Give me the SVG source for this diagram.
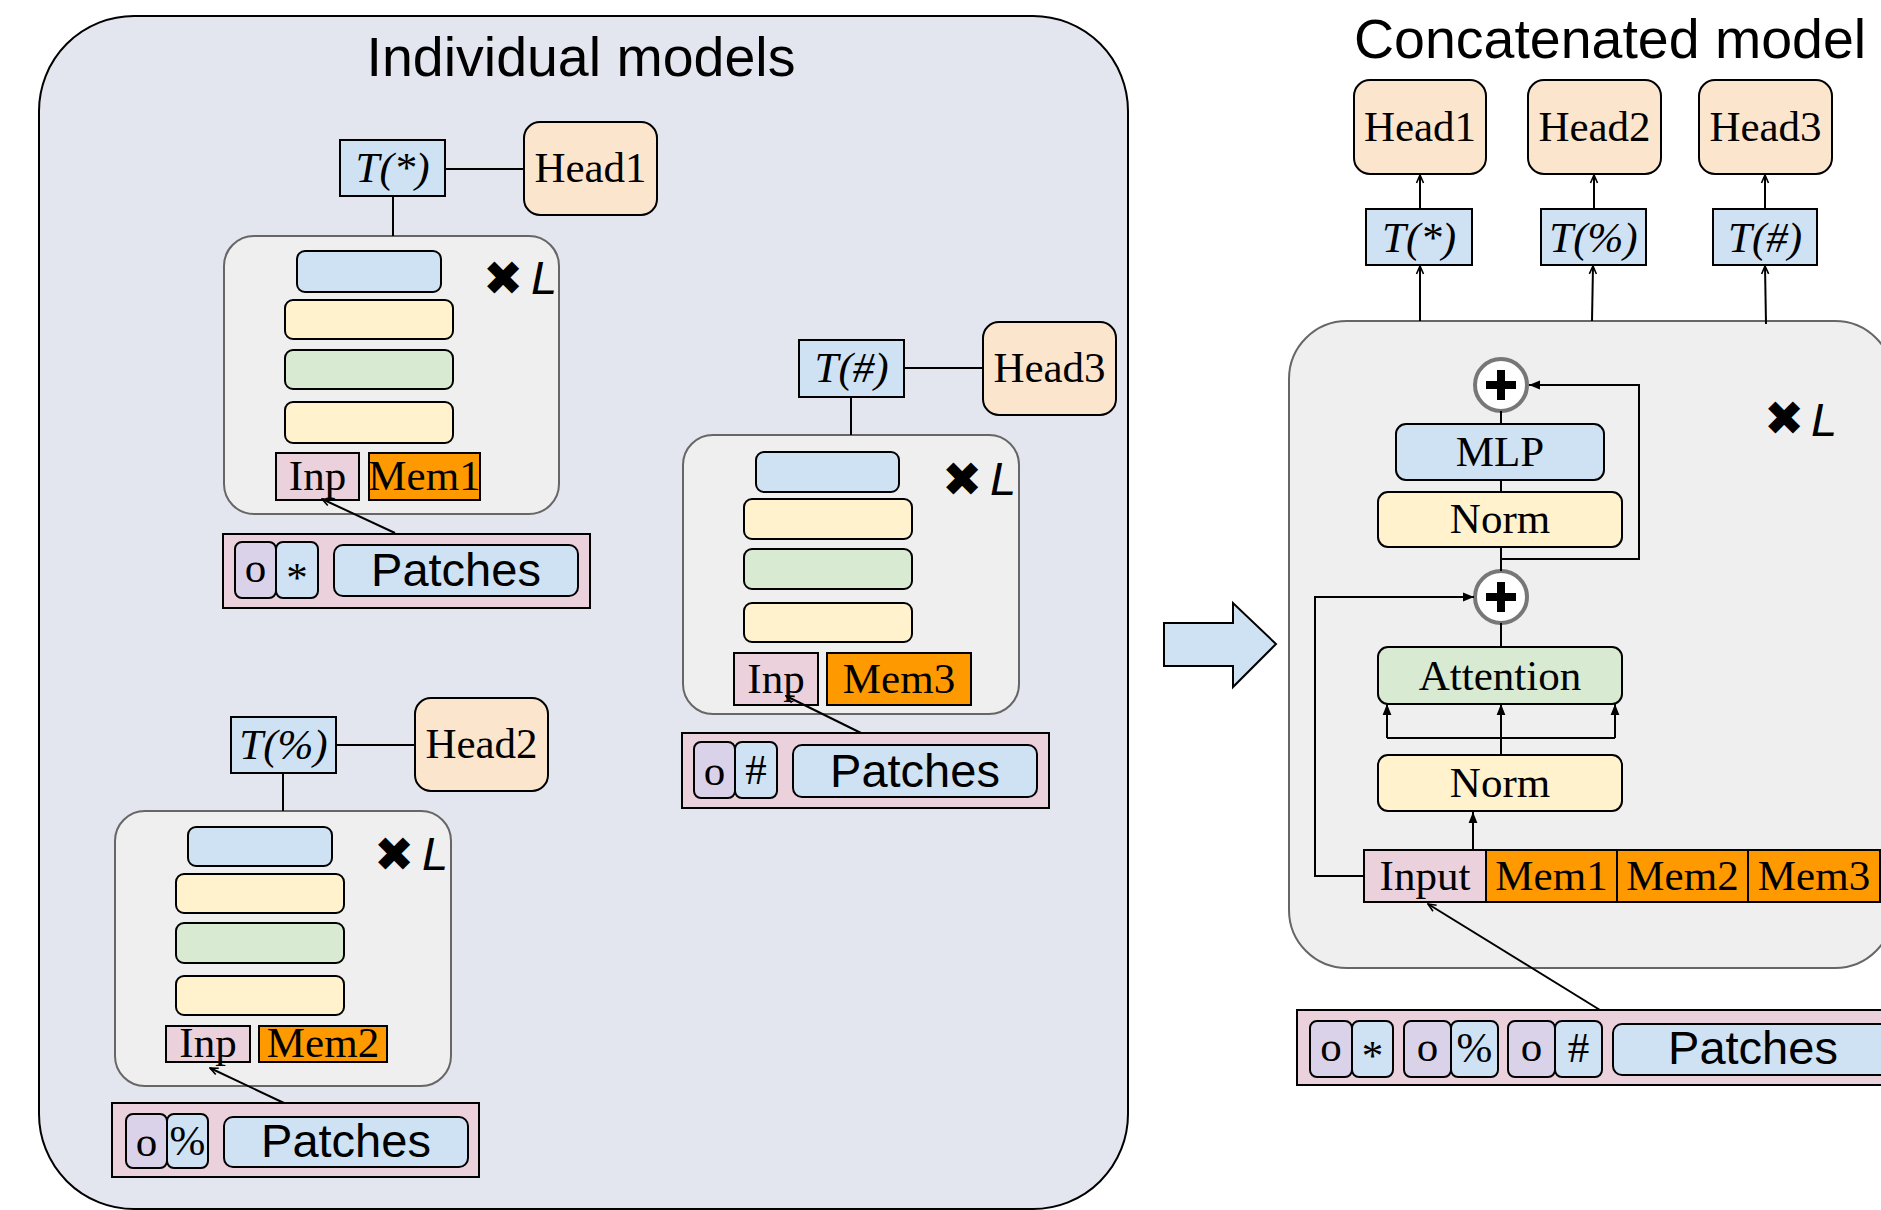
<svg xmlns="http://www.w3.org/2000/svg" width="1881" height="1210" viewBox="0 0 1881 1210">
<style>
.panel{fill:#e3e6ee;stroke:#000;stroke-width:2}
.blk{fill:#efefef;stroke:#666;stroke-width:2}
.bl{fill:#cfe2f3;stroke:#000;stroke-width:2}
.ye{fill:#fff2cc;stroke:#000;stroke-width:2}
.gr{fill:#d9ead3;stroke:#000;stroke-width:2}
.pe{fill:#fce5cd;stroke:#000;stroke-width:2}
.pk{fill:#ead1dc;stroke:#000;stroke-width:2}
.pu{fill:#d9d2e9;stroke:#000;stroke-width:2}
.or{fill:#ff9900;stroke:#000;stroke-width:2}
.ln{fill:none;stroke:#000;stroke-width:2}
.sum{fill:#fff;stroke:#777;stroke-width:4}
.sf{font-family:"Liberation Serif","DejaVu Serif",serif;font-size:43px;text-anchor:middle;fill:#000}
.it{font-style:italic}
.ss{font-family:"Liberation Sans",Arial,sans-serif;fill:#000}
.pt{font-size:47px;text-anchor:middle}
.tt{font-size:55.5px}
.x{font-family:"DejaVu Sans",sans-serif;font-size:48px;fill:#000}
.L{font-family:"Liberation Sans",Arial,sans-serif;font-style:italic;font-size:47px;fill:#000}
</style>
<defs>
<marker id="op" viewBox="0 0 10 10" refX="9" refY="5" markerWidth="10" markerHeight="10" markerUnits="userSpaceOnUse" orient="auto"><path d="M1,1.5 L9,5 L1,8.5" fill="none" stroke="#000" stroke-width="1.6"/></marker>
<marker id="fa" viewBox="0 0 10 10" refX="10" refY="5" markerWidth="12" markerHeight="11" markerUnits="userSpaceOnUse" orient="auto"><path d="M0,1 L10,5 L0,9 z" fill="#000"/></marker>
</defs>
<rect width="1881" height="1210" fill="#fff"/>

<g id="panel-individual">
<rect class="panel" x="39" y="16" width="1089" height="1193" rx="95"/>
<text class="ss tt" x="581" y="76" text-anchor="middle">Individual models</text>
</g>

<g id="model1">
<g id="t-star-1"><rect class="bl" x="340" y="140" width="105" height="56"/><text class="sf it" x="392.5" y="182">T(*)</text></g>
<g id="head1-1"><rect class="pe" x="524" y="122" width="133" height="93" rx="16"/><text class="sf" x="590.5" y="182">Head1</text></g>
<g id="block1">
<rect class="blk" x="224" y="236" width="335" height="278" rx="30"/>
<rect class="bl" x="297" y="251" width="144" height="41" rx="8"/>
<rect class="ye" x="285" y="300" width="168" height="39" rx="8"/>
<rect class="gr" x="285" y="350" width="168" height="39" rx="8"/>
<rect class="ye" x="285" y="402" width="168" height="41" rx="8"/>
<text class="x" x="483" y="295">✖</text><text class="L" x="531" y="294">L</text>
<rect class="pk" x="276" y="453" width="83" height="47"/><text class="sf" x="317.5" y="490">Inp</text>
<rect class="or" x="369" y="453" width="111" height="47"/><text class="sf" x="424.5" y="490">Mem1</text>
</g>
<g id="patches1">
<rect class="pk" x="223" y="534" width="367" height="74"/>
<rect class="pu" x="235" y="542" width="41" height="56" rx="7"/><text class="sf" x="255.5" y="582" font-size="48">o</text>
<rect class="bl" x="276" y="542" width="42" height="56" rx="7"/><text class="sf" x="297" y="592" font-size="38">*</text>
<rect class="bl" x="334" y="545" width="244" height="51" rx="9"/><text class="ss pt" x="456" y="586">Patches</text>
</g>
</g>

<g id="model3">
<g id="t-hash-1"><rect class="bl" x="799" y="340" width="105" height="57"/><text class="sf it" x="851.5" y="382">T(#)</text></g>
<g id="head3-1"><rect class="pe" x="983" y="322" width="133" height="93" rx="16"/><text class="sf" x="1049.5" y="382">Head3</text></g>
<g id="block3">
<rect class="blk" x="683" y="435" width="336" height="279" rx="30"/>
<rect class="bl" x="756" y="452" width="143" height="40" rx="8"/>
<rect class="ye" x="744" y="499" width="168" height="40" rx="8"/>
<rect class="gr" x="744" y="549" width="168" height="40" rx="8"/>
<rect class="ye" x="744" y="603" width="168" height="39" rx="8"/>
<text class="x" x="942" y="496">✖</text><text class="L" x="990" y="495">L</text>
<rect class="pk" x="734" y="653" width="84" height="52"/><text class="sf" x="776" y="693">Inp</text>
<rect class="or" x="827" y="653" width="144" height="52"/><text class="sf" x="899" y="693">Mem3</text>
</g>
<g id="patches3">
<rect class="pk" x="682" y="733" width="367" height="75"/>
<rect class="pu" x="694" y="742" width="41" height="56" rx="7"/><text class="sf" x="714.5" y="785" font-size="48">o</text>
<rect class="bl" x="735" y="742" width="42" height="56" rx="7"/><text class="sf" x="756" y="784" font-size="38">#</text>
<rect class="bl" x="793" y="745" width="244" height="52" rx="9"/><text class="ss pt" x="915" y="787">Patches</text>
</g>
</g>

<g id="model2">
<g id="t-pct-1"><rect class="bl" x="231" y="717" width="105" height="56"/><text class="sf it" x="283.5" y="759">T(%)</text></g>
<g id="head2-1"><rect class="pe" x="415" y="698" width="133" height="93" rx="16"/><text class="sf" x="481.5" y="758">Head2</text></g>
<g id="block2">
<rect class="blk" x="115" y="811" width="336" height="275" rx="30"/>
<rect class="bl" x="188" y="827" width="144" height="39" rx="8"/>
<rect class="ye" x="176" y="874" width="168" height="39" rx="8"/>
<rect class="gr" x="176" y="923" width="168" height="40" rx="8"/>
<rect class="ye" x="176" y="976" width="168" height="39" rx="8"/>
<text class="x" x="374" y="871">✖</text><text class="L" x="422" y="870">L</text>
<rect class="pk" x="166" y="1026" width="84" height="36"/><text class="sf" x="208" y="1057" font-size="40">Inp</text>
<rect class="or" x="259" y="1026" width="128" height="36"/><text class="sf" x="323" y="1057" font-size="40">Mem2</text>
</g>
<g id="patches2">
<rect class="pk" x="112" y="1103" width="367" height="74"/>
<rect class="pu" x="126" y="1114" width="41" height="54" rx="7"/><text class="sf" x="146.5" y="1156" font-size="48">o</text>
<rect class="bl" x="167" y="1114" width="41" height="54" rx="7"/><text class="sf" x="187.5" y="1155" font-size="38">%</text>
<rect class="bl" x="224" y="1117" width="244" height="50" rx="9"/><text class="ss pt" x="346" y="1157">Patches</text>
</g>
</g>

<g id="big-arrow">
<polygon points="1164,623 1233,623 1233,603 1276,644 1233,687 1233,666 1164,666" fill="#cfe2f3" stroke="#000" stroke-width="2"/>
</g>

<g id="title-concat"><text class="ss tt" x="1354" y="58">Concatenated model</text></g>

<g id="heads-concat">
<g id="head1-c"><rect class="pe" x="1354" y="80" width="132" height="94" rx="16"/><text class="sf" x="1420" y="141">Head1</text></g>
<g id="head2-c"><rect class="pe" x="1528" y="80" width="133" height="94" rx="16"/><text class="sf" x="1594.5" y="141">Head2</text></g>
<g id="head3-c"><rect class="pe" x="1699" y="80" width="133" height="94" rx="16"/><text class="sf" x="1765.5" y="141">Head3</text></g>
<g id="t-star-c"><rect class="bl" x="1366" y="209" width="106" height="56"/><text class="sf it" x="1419" y="252">T(*)</text></g>
<g id="t-pct-c"><rect class="bl" x="1541" y="209" width="105" height="56"/><text class="sf it" x="1593.5" y="252">T(%)</text></g>
<g id="t-hash-c"><rect class="bl" x="1713" y="209" width="104" height="56"/><text class="sf it" x="1765" y="252">T(#)</text></g>
</g>

<g id="block-concat">
<rect class="blk" x="1289" y="321" width="604" height="647" rx="58"/>
<text class="x" x="1764" y="435">✖</text><text class="L" x="1811" y="436">L</text>
</g>

<g id="sum1"><circle class="sum" cx="1501" cy="385" r="26"/><path d="M1486,385 H1516 M1501,370 V400" stroke="#000" stroke-width="8"/></g>
<g id="mlp"><rect class="bl" x="1396" y="424" width="208" height="56" rx="10"/><text class="sf" x="1500" y="466">MLP</text></g>
<g id="norm1"><rect class="ye" x="1378" y="492" width="244" height="55" rx="10"/><text class="sf" x="1500" y="533" font-size="44">Norm</text></g>
<g id="sum2"><circle class="sum" cx="1501" cy="597" r="26"/><path d="M1486,597 H1516 M1501,582 V612" stroke="#000" stroke-width="8"/></g>
<g id="attention"><rect class="gr" x="1378" y="647" width="244" height="57" rx="10"/><text class="sf" x="1500" y="690" font-size="44">Attention</text></g>
<g id="norm2"><rect class="ye" x="1378" y="755" width="244" height="56" rx="10"/><text class="sf" x="1500" y="797" font-size="44">Norm</text></g>
<g id="tokens">
<rect class="pk" x="1364" y="850" width="122" height="52"/><text class="sf" x="1425" y="890" font-size="44">Input</text>
<rect class="or" x="1486" y="850" width="131" height="52"/><text class="sf" x="1551.5" y="890">Mem1</text>
<rect class="or" x="1617" y="850" width="131" height="52"/><text class="sf" x="1682.5" y="890">Mem2</text>
<rect class="or" x="1748" y="850" width="132" height="52"/><text class="sf" x="1814" y="890">Mem3</text>
</g>
<g id="patches-concat">
<rect class="pk" x="1297" y="1010" width="600" height="75"/>
<rect class="pu" x="1310" y="1021" width="42" height="56" rx="7"/><text class="sf" x="1331" y="1061" font-size="48">o</text>
<rect class="bl" x="1352" y="1021" width="41" height="56" rx="7"/><text class="sf" x="1372.5" y="1070" font-size="38">*</text>
<rect class="pu" x="1404" y="1021" width="47" height="56" rx="7"/><text class="sf" x="1427.5" y="1061" font-size="48">o</text>
<rect class="bl" x="1451" y="1021" width="47" height="56" rx="7"/><text class="sf" x="1474.5" y="1062" font-size="38">%</text>
<rect class="pu" x="1508" y="1021" width="47" height="56" rx="7"/><text class="sf" x="1531.5" y="1061" font-size="48">o</text>
<rect class="bl" x="1555" y="1021" width="47" height="56" rx="7"/><text class="sf" x="1578.5" y="1062" font-size="38">#</text>
<rect class="bl" x="1613" y="1024" width="290" height="51" rx="9"/><text class="ss pt" x="1753" y="1064">Patches</text>
</g>

<g id="connectors">
<line class="ln" x1="445" y1="169" x2="524" y2="169"/>
<line class="ln" x1="393" y1="196" x2="393" y2="236"/>
<line class="ln" x1="395" y1="533" x2="322" y2="499" marker-end="url(#op)"/>
<line class="ln" x1="904" y1="368" x2="983" y2="368"/>
<line class="ln" x1="851" y1="397" x2="851" y2="435"/>
<line class="ln" x1="861" y1="733" x2="786" y2="696" marker-end="url(#op)"/>
<line class="ln" x1="336" y1="745" x2="415" y2="745"/>
<line class="ln" x1="283" y1="773" x2="283" y2="811"/>
<line class="ln" x1="284" y1="1103" x2="210" y2="1068" marker-end="url(#op)"/>
<line class="ln" x1="1420" y1="209" x2="1420" y2="175" marker-end="url(#op)"/>
<line class="ln" x1="1594" y1="209" x2="1594" y2="175" marker-end="url(#op)"/>
<line class="ln" x1="1765" y1="209" x2="1765" y2="175" marker-end="url(#op)"/>
<line class="ln" x1="1420" y1="321" x2="1420" y2="266" marker-end="url(#op)"/>
<line class="ln" x1="1592" y1="321" x2="1593" y2="266" marker-end="url(#op)"/>
<line class="ln" x1="1766" y1="324" x2="1765" y2="266" marker-end="url(#op)"/>
<line class="ln" x1="1501" y1="411" x2="1501" y2="424"/>
<line class="ln" x1="1501" y1="480" x2="1501" y2="492"/>
<line class="ln" x1="1501" y1="547" x2="1501" y2="571"/>
<path class="ln" d="M1501,559 H1639 V385 H1529" marker-end="url(#fa)"/>
<path class="ln" d="M1364,876 H1315 V597 H1474" marker-end="url(#fa)"/>
<line class="ln" x1="1501" y1="623" x2="1501" y2="647"/>
<line class="ln" x1="1501" y1="755" x2="1501" y2="704" marker-end="url(#fa)"/>
<path class="ln" d="M1387,738 H1615"/>
<line class="ln" x1="1387" y1="738" x2="1387" y2="704" marker-end="url(#fa)"/>
<line class="ln" x1="1615" y1="738" x2="1615" y2="704" marker-end="url(#fa)"/>
<line class="ln" x1="1473" y1="850" x2="1473" y2="812" marker-end="url(#fa)"/>
<line class="ln" x1="1600" y1="1010" x2="1428" y2="904" marker-end="url(#op)"/>
</g>
</svg>
